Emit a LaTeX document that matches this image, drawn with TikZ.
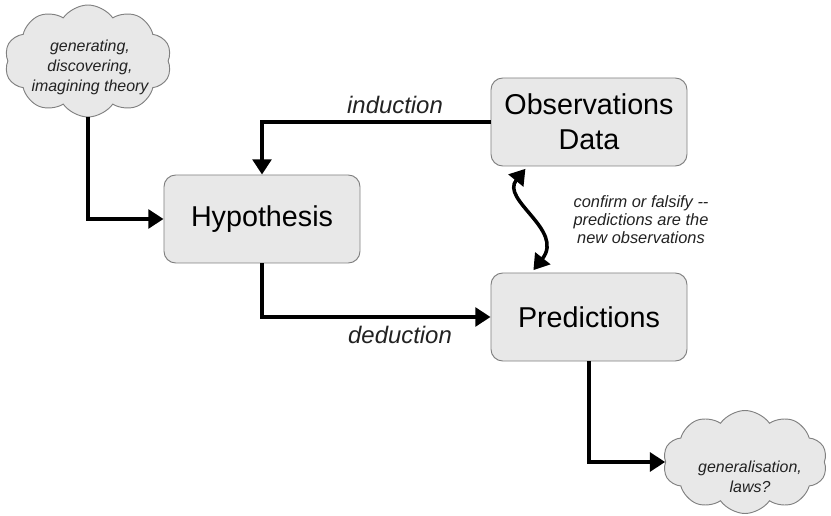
\documentclass[tikz,border=0pt]{standalone}
\usepackage{fontspec}
\setmainfont{Liberation Sans}
\usetikzlibrary{shapes.symbols,arrows.meta}
\definecolor{boxfill}{HTML}{E8E8E8}
\definecolor{boxline}{HTML}{808080}
\definecolor{inkgray}{HTML}{222222}
\begin{document}
\begin{tikzpicture}[x=0.03cm,y=-0.03cm,
  stage/.style={draw=boxline,fill=boxfill,rounded corners=10pt,line width=0.8pt,
    minimum width=5.88cm,minimum height=2.64cm,align=center,
    font=\fontsize{24.5}{29.8}\selectfont},
  thought/.style={cloud,cloud puffs=10,cloud puff arc=110,cloud ignores aspect,draw=boxline,
    fill=boxfill,line width=0.8pt},
  thoughttext/.style={text=inkgray,align=center,font=\itshape\fontsize{13.6}{17}\selectfont},
  steplabel/.style={text=inkgray,font=\itshape\fontsize{20.4}{24}\selectfont},
  flow/.style={line width=3pt,-{Triangle[length=13pt,width=16pt]}}]
\useasboundingbox (0,0) rectangle (831,516);
% clouds
\node[thought,minimum width=5.01cm,minimum height=3.36cm] (theory) at (88,61) {};
\node[thoughttext] (theorytext) at (90,67) {generating,\\discovering,\\imagining theory};
\node[thought,minimum width=4.92cm,minimum height=3.09cm] (laws) at (745,462) {};
\node[thoughttext] (lawstext) at (750,477) {generalisation,\\laws?};
% boxes
\node[stage] (hyp) at (262,219) {Hypothesis};
\node[stage] (obs) at (589,122) {Observations\\Data};
\node[stage] (pred) at (589,317) {Predictions};
% arrows
\draw[flow] (theory.south) |- (hyp.west);
\draw[flow] (obs.west) -| (hyp.north);
\draw[flow] (hyp.south) |- (pred.west);
\draw[flow] (pred.south) |- (laws.west);
\draw[flow,{Triangle[length=13pt,width=16pt]}-{Triangle[length=13pt,width=16pt]}]
  ([xshift=29.8pt,yshift=-2pt]obs.south west) .. controls (500,200) and (565,230) .. ([xshift=36.6pt,yshift=2pt]pred.north west);
% labels
\node[steplabel] (induction) at (395,105) {induction};
\node[steplabel] (deduction) at (400,335) {deduction};
\node[thoughttext,font=\itshape\fontsize{14}{15.3}\selectfont] (confirm) at (641,220)
  {confirm or falsify -{}-\\predictions are the\\new observations};
\end{tikzpicture}
\end{document}
